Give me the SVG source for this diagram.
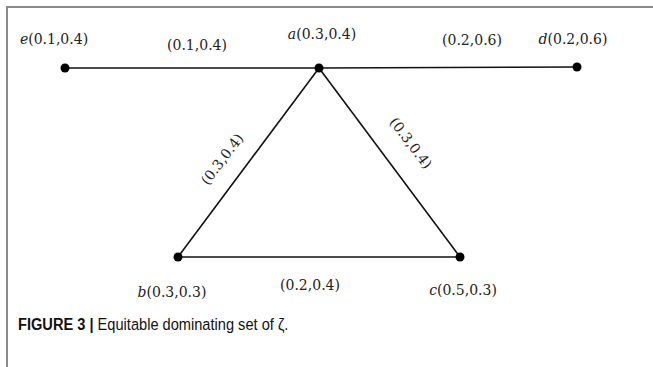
<svg xmlns="http://www.w3.org/2000/svg" width="653" height="367" viewBox="0 0 653 367">
<style>
.lbl{font-family:"DejaVu Serif","Liberation Serif",serif;font-size:14px;fill:#222}
.it{font-style:italic}
.edge{stroke:#111;stroke-width:1.6;fill:none}
.node{fill:#000}
.cap{font-family:"Liberation Sans",Arial,sans-serif;font-size:17px;fill:#111}
</style>
<rect width="653" height="367" fill="#fff"/>
<path d="M7,367 V7 H653" stroke="#8a8a8a" stroke-width="2" fill="none"/>
<g id="connectors">
<line class="edge" x1="65" y1="68" x2="319" y2="68"/>
<line class="edge" x1="319" y1="68" x2="577" y2="67"/>
<line class="edge" x1="319" y1="68" x2="178" y2="257"/>
<line class="edge" x1="319" y1="68" x2="460" y2="257"/>
<line class="edge" x1="178" y1="257" x2="460" y2="257"/>
<text class="lbl" x="197" y="50" text-anchor="middle">(0.1,0.4)</text>
<text class="lbl" x="472" y="45" text-anchor="middle">(0.2,0.6)</text>
<text class="lbl" x="310" y="290" text-anchor="middle">(0.2,0.4)</text>
<text class="lbl" text-anchor="middle" transform="translate(226,162) rotate(-53)">(0.3,0.4)</text>
<text class="lbl" text-anchor="middle" transform="translate(407,146) rotate(53)">(0.3,0.4)</text>
</g>
<g id="node-e"><circle class="node" cx="65" cy="68" r="4.5"/><text class="lbl" x="54" y="44" text-anchor="middle"><tspan class="it">e</tspan>(0.1,0.4)</text></g>
<g id="node-a"><circle class="node" cx="319" cy="68" r="4.5"/><text class="lbl" x="322" y="39" text-anchor="middle"><tspan class="it">a</tspan>(0.3,0.4)</text></g>
<g id="node-d"><circle class="node" cx="577" cy="67" r="4.5"/><text class="lbl" x="573" y="44" text-anchor="middle"><tspan class="it">d</tspan>(0.2,0.6)</text></g>
<g id="node-b"><circle class="node" cx="178" cy="257" r="4.5"/><text class="lbl" x="172" y="297" text-anchor="middle"><tspan class="it">b</tspan>(0.3,0.3)</text></g>
<g id="node-c"><circle class="node" cx="460" cy="257" r="4.5"/><text class="lbl" x="463" y="295" text-anchor="middle"><tspan class="it">c</tspan>(0.5,0.3)</text></g>
<text class="cap" transform="translate(18,330) scale(0.86,1)"><tspan font-weight="bold">FIGURE 3 |</tspan> Equitable dominating set of ζ.</text>
</svg>
